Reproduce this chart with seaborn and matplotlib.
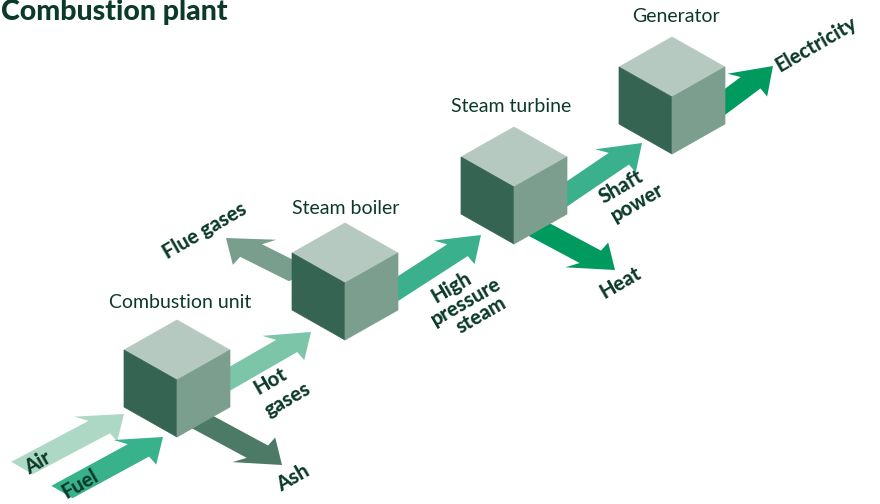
import numpy as np
import matplotlib
matplotlib.use("Agg")
import matplotlib.pyplot as plt
from matplotlib.patches import Polygon
import seaborn as sns

# ---- content ----
title = "Combustion plant"
units = ["Combustion unit", "Steam boiler", "Steam turbine", "Generator"]
flow_labels = ["Air", "Fuel", "Hot\ngases", "Ash", "Flue gases",
               "High\npressure\nsteam", "Shaft\npower", "Heat", "Electricity"]
flow_colors = ["#acd8c5", "#38b28b", "#7cc5a8", "#4d7a67", "#7a9e8e",
               "#3bb08c", "#3bb08c", "#00995e", "#00995e"]

# ---- layout (pixel space) ----
unit_centres = [(177, 380), (345, 283), (514, 187), (672, 97)]
unit_title_pos = [(180, 303), (346, 209), (511, 107), (676, 17)]
flow_tail = [(22, 468), (62, 492), (205, 393), (195, 418), (300, 275),
             (385, 297), (555, 202), (525, 222), (710, 113)]
flow_tip = [(124, 414), (163, 437), (311, 332), (282, 465), (226, 238),
            (481, 235), (642, 143), (615, 270), (773, 66)]
flow_side = ["dr", "dr", "dr", "ur", "ur", "dr", "dr", "ur", "dr"]
label_pos = [(38, 463), (80, 484), (279, 390), (293, 478), (205, 230),
             (466, 301), (629, 194), (620, 282), (816, 44)]
line_step = [(0, 0), (0, 0), (17, 18), (0, 0), (0, 0),
             (15, 14), (17, 16), (0, 0), (0, 0)]

TEXT = "#0b3a2a"
TOP, LEFT, RIGHT = "#b5c9c0", "#356452", "#7b9e8e"
SIDES = {"dr": np.array([0.866, 0.5]), "ur": np.array([0.866, -0.5])}

sns.set_theme(style="white")
plt.rcParams['font.family'] = ['Lato', 'DejaVu Sans']

fig = plt.figure(figsize=(8.8, 5.04), dpi=100)
ax = fig.add_axes([0, 0, 1, 1])
ax.set_xlim(0, 880)
ax.set_ylim(504, 0)
ax.axis("off")


def arrow(p0, p1, color, side, w=21, hw=42, hl=28, sw=4):
    p0 = np.array(p0, float)
    p1 = np.array(p1, float)
    u = (p1 - p0) / np.linalg.norm(p1 - p0)
    v = SIDES[side]
    k = abs(u[0] * v[1] - u[1] * v[0])
    s = v * (w / 2) / k
    h = v * (hw / 2) / k
    neck = p1 - u * hl
    pts = [p0 + s, neck + s, neck - u * sw + h, p1,
           neck - u * sw - h, neck - s, p0 - s]
    ax.add_patch(Polygon(pts, closed=True, fc=color, ec="none", zorder=1))


def cube(c, hw=53, th=30, h=57):
    cx, cy = c
    top = [(cx, cy), (cx - hw, cy - th), (cx, cy - 2 * th), (cx + hw, cy - th)]
    left = [(cx, cy), (cx - hw, cy - th), (cx - hw, cy - th + h), (cx, cy + h)]
    right = [(cx, cy), (cx + hw, cy - th), (cx + hw, cy - th + h), (cx, cy + h)]
    for pts, col in ((top, TOP), (left, LEFT), (right, RIGHT)):
        ax.add_patch(Polygon(pts, closed=True, fc=col, ec=col, lw=0.5, zorder=3))


for t, p, col, sd in zip(flow_tail, flow_tip, flow_colors, flow_side):
    arrow(t, p, col, sd)

for c in unit_centres:
    cube(c)

for name, pos in zip(units, unit_title_pos):
    ax.text(pos[0], pos[1], name, ha="center", va="center", fontsize=14,
            color=TEXT, zorder=5)

for lab, pos, step in zip(flow_labels, label_pos, line_step):
    lines = lab.split("\n")
    n = len(lines)
    for i, line in enumerate(lines):
        p = np.array(pos, float) + np.array(step, float) * (i - (n - 1) / 2)
        ax.text(p[0], p[1], line, ha="center", va="center", fontsize=14.5,
                fontweight="black", color=TEXT, rotation=30,
                rotation_mode="anchor", zorder=5)

ax.text(1, 12, title, ha="left", va="center", fontsize=20.5,
        fontweight="black", color=TEXT)

fig.savefig("out.png", dpi=100)
